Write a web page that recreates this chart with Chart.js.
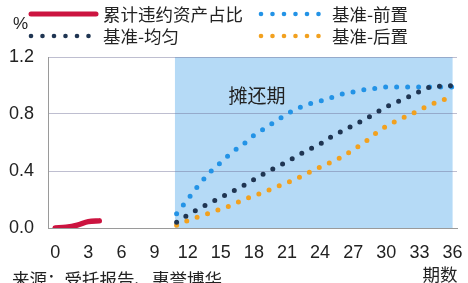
<!DOCTYPE html>
<html>
<head>
<meta charset="utf-8">
<script src="https://cdn.jsdelivr.net/npm/chart.js@4.4.1/dist/chart.umd.min.js"></script>
<style>
  html, body { margin: 0; padding: 0; background: #fff; }
</style>
</head>
<body>
<canvas id="chart" width="468" height="283"></canvas>
<script>
// 数据
const redPeriods = [0, 1, 2, 3, 4];
const redValues = [0, 0.005, 0.02, 0.045, 0.05];

const basePeriods = [11, 12, 13, 14, 15, 16, 17, 18, 19, 20, 21, 22, 23, 24, 25, 26, 27, 28, 29, 30, 31, 32, 33, 34, 35, 36];
const frontValues = [0.10, 0.20, 0.30, 0.39, 0.46, 0.53, 0.585, 0.65, 0.70, 0.75, 0.80, 0.84, 0.87, 0.89, 0.915, 0.94, 0.955, 0.97, 0.98, 0.99, 0.99, 0.99, 0.99, 0.99, 0.99, 0.99];
const evenValues = [0.04, 0.09, 0.135, 0.175, 0.215, 0.255, 0.295, 0.34, 0.385, 0.425, 0.465, 0.51, 0.55, 0.59, 0.64, 0.68, 0.72, 0.76, 0.805, 0.85, 0.885, 0.92, 0.957, 0.99, 0.995, 1.0];
const backValues = [0.02, 0.052, 0.08, 0.105, 0.133, 0.16, 0.196, 0.225, 0.255, 0.288, 0.318, 0.352, 0.39, 0.427, 0.462, 0.50, 0.55, 0.60, 0.662, 0.715, 0.755, 0.79, 0.828, 0.865, 0.895, 0.925];

const xTicks = [0, 3, 6, 9, 12, 15, 18, 21, 24, 27, 30, 33, 36];
const yTicks = [0, 0.4, 0.8, 1.2];
const seriesNames = ['累计违约资产占比', '基准-前置', '基准-均匀', '基准-后置'];
const amortStart = 10.85;
const amortEnd = 36;

const colRed = '#cc1440';
const colFront = '#2393e6';
const colEven = '#1f3552';
const colBack = '#f2a11f';

function toPoints(xs, ys) {
    return xs.map((x, i) => ({ x: x, y: ys[i] }));
}

const fontNum = 'Liberation Sans';
const fontCJK = '"Noto Sans CJK SC", sans-serif';

// 背景色带（摊还期）
const bandPlugin = {
    id: 'band',
    beforeDraw(chart) {
        const { ctx, chartArea, scales } = chart;
        const x1 = scales.x.getPixelForValue(amortStart);
        const x2 = scales.x.getPixelForValue(amortEnd);
        ctx.save();
        ctx.fillStyle = '#b5daf6';
        ctx.fillRect(x1, chartArea.top, x2 - x1, chartArea.bottom - chartArea.top);
        ctx.restore();
    }
};

// 图例和文字
const textPlugin = {
    id: 'texts',
    afterDraw(chart) {
        const ctx = chart.ctx;
        ctx.save();
        ctx.fillStyle = '#222';
        ctx.textBaseline = 'middle';

        ctx.font = '17px ' + fontNum;
        ctx.textAlign = 'left';
        ctx.fillText('%', 13, 24);

        // 红线
        ctx.strokeStyle = colRed;
        ctx.lineWidth = 5;
        ctx.lineCap = 'round';
        ctx.beginPath();
        ctx.moveTo(31, 14);
        ctx.lineTo(96, 14);
        ctx.stroke();

        function dots(x0, y, color) {
            ctx.fillStyle = color;
            for (let i = 0; i < 6; i++) {
                ctx.beginPath();
                ctx.arc(x0 + i * 11.5, y, 2.3, 0, Math.PI * 2);
                ctx.fill();
            }
        }
        dots(261, 14, colFront);
        dots(31, 36, colEven);
        dots(261, 36, colBack);

        ctx.fillStyle = '#222';
        ctx.font = '17.5px ' + fontCJK;
        ctx.fillText(seriesNames[0], 103, 14);
        ctx.fillText(seriesNames[1], 332, 14);
        ctx.fillText(seriesNames[2], 103, 36);
        ctx.fillText(seriesNames[3], 332, 36);

        ctx.font = '19px ' + fontCJK;
        ctx.textAlign = 'center';
        ctx.fillText('摊还期', 257, 96);

        ctx.font = '17.5px ' + fontCJK;
        ctx.fillText('期数', 440, 274);

        ctx.textAlign = 'left';
        ctx.textBaseline = 'top';
        ctx.fillText('来源：受托报告、惠誉博华', 12, 271);
        ctx.restore();
    }
};

const dotted = {
    borderDash: [0, 11],
    borderCapStyle: 'round',
    borderWidth: 5,
    pointRadius: 0,
    fill: false,
    cubicInterpolationMode: 'monotone'
};

new Chart(document.getElementById('chart'), {
    type: 'line',
    data: {
        datasets: [
            {
                label: seriesNames[0],
                data: toPoints(redPeriods, redValues),
                borderColor: colRed,
                borderWidth: 5.5,
                borderCapStyle: 'round',
                pointRadius: 0,
                cubicInterpolationMode: 'monotone'
            },
            Object.assign({ label: seriesNames[2], data: toPoints(basePeriods, evenValues), borderColor: colEven }, dotted),
            Object.assign({ label: seriesNames[3], data: toPoints(basePeriods, backValues), borderColor: colBack }, dotted),
            Object.assign({ label: seriesNames[1], data: toPoints(basePeriods, frontValues), borderColor: colFront }, dotted)
        ]
    },
    options: {
        responsive: false,
        animation: false,
        layout: { padding: { top: 57, left: 9, right: 11, bottom: 20 } },
        plugins: {
            legend: { display: false },
            tooltip: { enabled: false }
        },
        scales: {
            x: {
                type: 'linear',
                min: -0.65,
                max: 36.4,
                afterBuildTicks(scale) {
                    scale.ticks = xTicks.map(v => ({ value: v }));
                },
                afterFit(scale) {
                    scale.height = 35;
                    scale.paddingLeft = 0;
                    scale.paddingRight = 0;
                },
                grid: { display: false, drawTicks: false },
                border: { display: true, color: '#9a9a9a', width: 1 },
                ticks: {
                    padding: 14,
                    maxRotation: 0,
                    autoSkip: false,
                    color: '#222',
                    font: { family: fontNum, size: 18 }
                }
            },
            y: {
                min: 0,
                max: 1.2,
                afterBuildTicks(scale) {
                    scale.ticks = yTicks.map(v => ({ value: v }));
                },
                afterFit(scale) {
                    scale.width = 39;
                },
                grid: { color: 'rgba(110,110,150,0.45)', lineWidth: 1, drawTicks: false },
                border: { display: true, color: '#9a9a9a', width: 1 },
                ticks: {
                    padding: 14,
                    color: '#222',
                    font: { family: fontNum, size: 18 },
                    callback: v => v.toFixed(1)
                }
            }
        }
    },
    plugins: [bandPlugin, textPlugin]
});
</script>
</body>
</html>
